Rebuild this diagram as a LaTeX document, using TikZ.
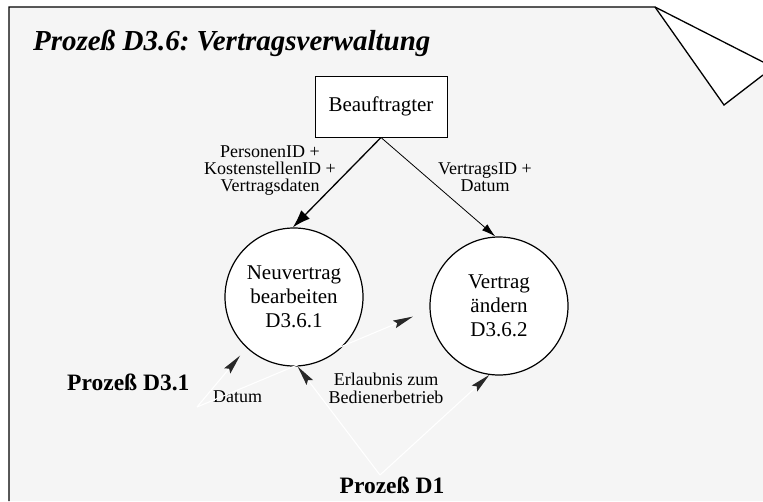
\documentclass[tikz,border=0pt]{standalone}
\usepackage{fontspec}
\setmainfont{Liberation Serif}
\usetikzlibrary{arrows.meta}
\definecolor{pagegray}{RGB}{245,245,245}
\definecolor{tipgray}{RGB}{40,40,40}
\frenchspacing
\begin{document}
\begin{tikzpicture}[x=1pt,y=-1pt,
  frameline/.style={line width=1.3pt,line join=miter},
  extbox/.style={draw,fill=white,line width=1pt,minimum width=132pt,minimum height=61pt,inner sep=0pt,font=\fontsize{21}{24}\selectfont},
  procnode/.style={circle,draw,fill=white,line width=1.2pt,minimum size=138pt,inner sep=0pt,align=center,font=\fontsize{21}{24}\selectfont},
  flowlabel/.style={align=center,inner sep=0pt,font=\fontsize{18}{17}\selectfont},
  extlabel/.style={inner sep=0pt,font=\fontsize{23.5}{26}\selectfont\bfseries},
  mainflow/.style={line width=1.3pt,-{Latex[length=18pt,width=12pt]}},
  subflow/.style={line width=0.8pt,-{Latex[length=14pt,width=8pt]}},
  ghostflow/.style={white,line width=1.1pt,-{Stealth[length=20pt,width=8pt,inset=3pt,color=tipgray]}}
]
\useasboundingbox (0,0) rectangle (763,501);
\fill[white] (0,0) rectangle (763,501);
% page with folded corner
\fill[pagegray] (9,7) -- (655,7) -- (724,105) -- (763,75) -- (763,501) -- (9,501) -- cycle;
\fill[white] (655,7) -- (763,62) -- (763,75) -- (724,105) -- cycle;
\draw[frameline] (9,501) -- (9,7) -- (655,7) -- (763,62);
\draw[frameline] (655,7) -- (724,105) -- (763,75);

% title
\node[anchor=base west,inner sep=0pt,font=\fontsize{29}{32}\selectfont\bfseries\itshape] (title) at (33,50) {Prozeß D3.6: Vertragsverwaltung};

% terminator and processes
\node[extbox] (boss) at (381,106.5) {Beauftragter};
\node[procnode] (nv) at (294,297) {Neuvertrag\\bearbeiten\\D3.6.1};
\node[procnode] (va) at (499,306) {Vertrag\\ändern\\D3.6.2};

% external processes
\node[extlabel,anchor=base west] (p31) at (67,390) {Prozeß D3.1};
\node[extlabel,anchor=base] (p1) at (392,493) {Prozeß D1};
\coordinate (p31out) at (197,407);
\coordinate (p1out) at (380,475);

% flows from the commissioner
\draw[mainflow] (boss.south) -- (nv.91);
\draw[subflow] (boss.south) -- (va.93);

% flow labels
\node[flowlabel] (lblnew) at (270,171) {PersonenID +\\KostenstellenID +\\Vertragsdaten};
\node[flowlabel] (lblchg) at (485,177.5) {VertragsID +\\Datum};
\node[flowlabel,anchor=base west] (lbldate) at (213,402) {Datum};
\node[flowlabel,anchor=base] (lblperm) at (386,385) {Erlaubnis zum};
\node[flowlabel,anchor=base] (lblperm2) at (386,403) {Bedienerbetrieb};

% flows from the other processes
\draw[ghostflow,shorten >=10pt] (p31out) -- (nv.227);
\draw[ghostflow,shorten >=18pt] (p31out) -- (va.183);
\draw[ghostflow] (p1out) -- (nv.273);
\draw[ghostflow] (p1out) -- (va.262);
\end{tikzpicture}
\end{document}
